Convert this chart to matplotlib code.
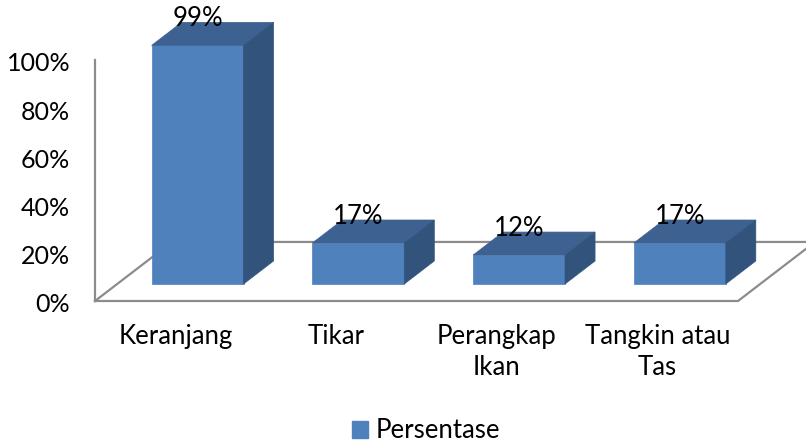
import numpy as np
import matplotlib
matplotlib.use('Agg')
import matplotlib.pyplot as plt
from matplotlib.patches import Polygon, Patch

categories = ['Keranjang', 'Tikar', 'Perangkap\nIkan', 'Tangkin atau\nTas']
values = [99, 17, 12, 17]
bar_labels = ['99%', '17%', '12%', '17%']
yticks = [0, 20, 40, 60, 80, 100]
ytick_labels = ['0%', '20%', '40%', '60%', '80%', '100%']
legend_label = 'Persentase'

plt.rcParams['font.family'] = ['Lato', 'DejaVu Sans']

W, H = 806, 443
fig = plt.figure(figsize=(W / 100, H / 100), dpi=100)
# front plane of the 3d box, in pixels of the reference
ax = fig.add_axes([95 / W, 1 - 301 / H, (738 - 95) / W, (301 - 60) / H])
ax.set_xlim(0, 4)
ax.set_ylim(0, 100)
ax.axis('off')

# depth vector (full floor depth) in data units
DX, DY = 0.479, 24.5
d0, d1 = 0.288, 0.678   # bar front / back depth
hw = 0.286              # half width of bar

front_c = '#4F81BD'
top_c = '#3D6291'
side_c = '#32537B'
line_c = '#8C8C8C'

def proj(x, z, d):
    return (x + d * DX, z + d * DY)

# floor outline and axis
n = len(categories)
fl = [proj(0, 0, 0), proj(n, 0, 0), proj(n, 0, 1), proj(0, 0, 1), proj(0, 0, 0)]
ax.plot([p[0] for p in fl], [p[1] for p in fl], color=line_c, lw=1.6,
        clip_on=False, zorder=1, solid_joinstyle='miter')
ax.plot([0, 0], [0, 100], color=line_c, lw=1.6, clip_on=False, zorder=1)

for i, v in enumerate(values):
    xc = i + 0.5
    x0, x1 = xc - hw, xc + hw
    front = [proj(x0, 0, d0), proj(x1, 0, d0), proj(x1, v, d0), proj(x0, v, d0)]
    top = [proj(x0, v, d0), proj(x1, v, d0), proj(x1, v, d1), proj(x0, v, d1)]
    side = [proj(x1, 0, d0), proj(x1, 0, d1), proj(x1, v, d1), proj(x1, v, d0)]
    for pts, c in [(front, front_c), (top, top_c), (side, side_c)]:
        ax.add_patch(Polygon(pts, closed=True, facecolor=c, edgecolor=c,
                             lw=0.5, clip_on=False, zorder=2))
    lx = proj(xc, v, d0)[0]
    ly = proj(xc, v, d1)[1] + 1.5
    ax.text(lx, ly, bar_labels[i], ha='center', va='center', fontsize=18.5,
            zorder=3, clip_on=False)

# category labels under the front edge
for i, lab in enumerate(categories):
    ax.text(i + 0.5, -9.5, lab, ha='center', va='top', fontsize=18.5,
            linespacing=1.3, clip_on=False)

# y tick labels
for t, lab in zip(yticks, ytick_labels):
    ax.text(-0.155, t - 1.6, lab, ha='right', va='center', fontsize=18, clip_on=False)

fig.legend(handles=[Patch(facecolor=front_c, edgecolor=front_c)], labels=[legend_label],
           loc='center', bbox_to_anchor=(426 / W, 1 - 431 / H), frameon=False,
           fontsize=18.5, handlelength=0.6, handleheight=0.6, handletextpad=0.3,
           borderpad=0)

fig.savefig('out.png', dpi=100)
